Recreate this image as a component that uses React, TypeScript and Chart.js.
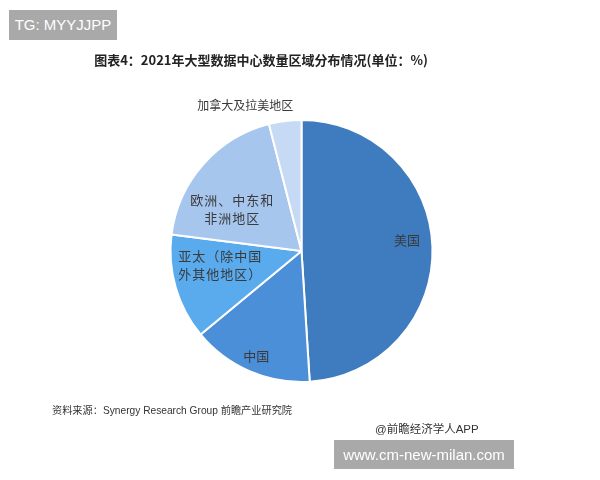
import React, { useEffect, useRef } from "react";
import { Chart, registerables } from "chart.js";

Chart.register(...registerables);

const categories: string[] = [
  "美国",
  "中国",
  "亚太（除中国\n外其他地区）",
  "欧洲、中东和\n非洲地区",
  "加拿大及拉美地区",
];
const shares: number[] = [49, 15, 13, 19, 4];
const sliceColors: string[] = ["#3E7CBF", "#4A8FD8", "#5AAAEE", "#A7C6EE", "#C6DAF5"];
const labelRadius: number[] = [0.81, 0.87, 0.63, 0.62, 1.19];
const labelAngleShift: number[] = [-4, 0, 6.5, -10, -14];
const labelFontSize: number[] = [13, 13, 13, 13, 12];

const titleText = "图表4：2021年大型数据中心数量区域分布情况(单位：%)";
const sourceText = "资料来源：Synergy Research Group 前瞻产业研究院";
const creditText = "@前瞻经济学人APP";
const topBadge = "TG: MYYJJPP";
const bottomBadge = "www.cm-new-milan.com";

const sliceLabelPlugin = {
  id: "sliceLabels",
  afterDatasetsDraw(chart: any) {
    const ctx = chart.ctx;
    const meta = chart.getDatasetMeta(0);
    ctx.save();
    ctx.fillStyle = "#3a3a3a";
    ctx.textAlign = "center";
    ctx.textBaseline = "middle";
    meta.data.forEach((arc: any, i: number) => {
      const p = arc.getProps(["x", "y", "startAngle", "endAngle", "outerRadius"], true);
      const mid = (p.startAngle + p.endAngle) / 2 + (labelAngleShift[i] * Math.PI) / 180;
      const r = p.outerRadius * labelRadius[i];
      const cx = p.x + Math.cos(mid) * r;
      const cy = p.y + Math.sin(mid) * r;
      const lines = categories[i].split("\n");
      const lh = 18;
      ctx.font = labelFontSize[i] + 'px "Noto Sans CJK SC", sans-serif';
      (ctx as any).letterSpacing = lines.length > 1 ? "1px" : "0px";
      lines.forEach((line, k) => {
        ctx.fillText(line, cx, cy + (k - (lines.length - 1) / 2) * lh);
      });
    });
    ctx.restore();
  },
};

export default function App() {
  const canvasRef = useRef<HTMLCanvasElement | null>(null);

  useEffect(() => {
    if (!canvasRef.current) return;
    const chart = new Chart(canvasRef.current, {
      type: "pie",
      data: {
        labels: categories,
        datasets: [
          {
            data: shares,
            backgroundColor: sliceColors,
            borderColor: "#ffffff",
            borderWidth: 2,
          },
        ],
      },
      options: {
        animation: false,
        responsive: false,
        radius: 131,
        layout: { padding: { left: 3, right: 0, top: 22, bottom: 0 } },
        plugins: {
          legend: { display: false },
          tooltip: { enabled: false },
          title: { display: false },
        },
      } as any,
      plugins: [sliceLabelPlugin],
    });
    return () => chart.destroy();
  }, []);

  return (
    <div
      style={{
        position: "absolute",
        left: 0,
        top: 0,
        width: 600,
        height: 480,
        background: "#ffffff",
        overflow: "hidden",
        fontFamily: '"Noto Sans CJK SC", sans-serif',
      }}
    >
      <canvas
        ref={canvasRef}
        width={600}
        height={480}
        style={{ position: "absolute", left: 0, top: 0, width: 600, height: 480 }}
      />
      <div
        style={{
          position: "absolute",
          left: 9,
          top: 10,
          width: 108,
          height: 30,
          background: "#A9A9A9",
          color: "#ffffff",
          fontFamily: '"Liberation Sans", Arial, sans-serif',
          fontSize: 15,
          lineHeight: "30px",
          textAlign: "center",
        }}
      >
        {topBadge}
      </div>
      <div
        style={{
          position: "absolute",
          left: 0,
          width: 522,
          top: 49,
          textAlign: "center",
          fontSize: 13,
          fontWeight: 700,
          color: "#222",
          lineHeight: "22px",
          whiteSpace: "nowrap",
        }}
      >
        {titleText}
      </div>
      <div
        style={{
          position: "absolute",
          left: 52,
          top: 402,
          fontSize: 10.2,
          fontFamily: '"Liberation Sans", "Noto Sans CJK SC", sans-serif',
          color: "#333",
          lineHeight: "18px",
          whiteSpace: "nowrap",
        }}
      >
        {sourceText}
      </div>
      <div
        style={{
          position: "absolute",
          left: 375,
          top: 420,
          fontSize: 11.5,
          fontFamily: '"Liberation Sans", "Noto Sans CJK SC", sans-serif',
          color: "#333",
          lineHeight: "18px",
          whiteSpace: "nowrap",
        }}
      >
        {creditText}
      </div>
      <div
        style={{
          position: "absolute",
          left: 334,
          top: 440,
          width: 180,
          height: 29,
          background: "#A9A9A9",
          color: "#ffffff",
          fontFamily: '"Liberation Sans", Arial, sans-serif',
          fontSize: 15,
          lineHeight: "29px",
          textAlign: "center",
          whiteSpace: "nowrap",
        }}
      >
        {bottomBadge}
      </div>
    </div>
  );
}
